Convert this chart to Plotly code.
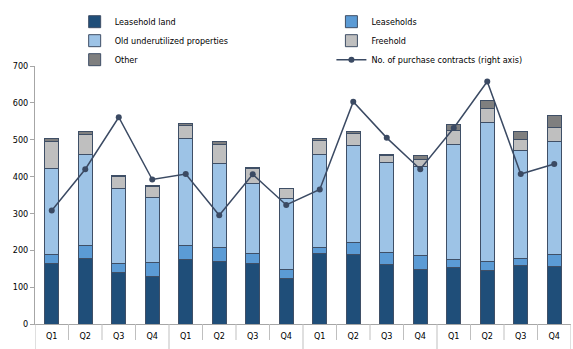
import plotly.graph_objects as go

quarters = ["Q1", "Q2", "Q3", "Q4"] * 4
positions = list(range(16))

leasehold_land = [163, 177, 140, 130, 176, 170, 163, 123, 190, 188, 162, 149, 152, 146, 159, 157]
leaseholds = [25, 37, 25, 37, 36, 37, 29, 25, 18, 34, 32, 37, 22, 24, 20, 31]
old_underutilized = [233, 247, 204, 175, 290, 229, 190, 193, 253, 263, 245, 241, 313, 376, 293, 308]
freehold = [75, 53, 31, 32, 37, 52, 40, 27, 38, 31, 18, 19, 37, 39, 29, 38]
other = [6, 7, 3, 2, 6, 6, 3, 0, 3, 5, 3, 11, 17, 21, 20, 33]
contracts = [308, 420, 561, 392, 407, 295, 406, 323, 365, 603, 505, 420, 532, 658, 407, 434]

outline = "#3f4f66"
series = [
    ("Leasehold land", leasehold_land, "#1f4e79", "legend"),
    ("Leaseholds", leaseholds, "#5b9bd5", "legend2"),
    ("Old underutilized properties", old_underutilized, "#9dc3e6", "legend"),
    ("Freehold", freehold, "#bfbfbf", "legend2"),
    ("Other", other, "#7f7f7f", "legend"),
]

fig = go.Figure()
for name, vals, col, lg in series:
    fig.add_trace(go.Bar(
        x=positions, y=vals, name=name, width=0.42, legend=lg,
        marker=dict(color=col, line=dict(color=outline, width=1)),
    ))

fig.add_trace(go.Scatter(
    x=positions, y=contracts, name="No. of purchase contracts (right axis)",
    mode="lines+markers", yaxis="y2", legend="legend2",
    line=dict(color="#3b4a63", width=1.5),
    marker=dict(color="#3b4a63", size=6),
))

shapes = []
for i in range(17):
    b = i - 0.5
    year_edge = (i % 4 == 0)
    shapes.append(dict(type="line", xref="x", yref="paper", x0=b, x1=b,
                       y0=0, y1=(-0.11 if year_edge else -0.062),
                       line=dict(color="#bfbfbf", width=1)))

legend_common = dict(orientation="v", yanchor="top", y=1.228, xanchor="left",
                     traceorder="normal", itemwidth=30, font=dict(size=9),
                     bgcolor="rgba(0,0,0,0)", tracegroupgap=0)

fig.update_layout(
    width=573, height=349,
    barmode="stack",
    margin=dict(l=35, r=2, t=66, b=25),
    paper_bgcolor="white", plot_bgcolor="white",
    font=dict(family="DejaVu Sans Condensed, DejaVu Sans", size=9, color="#000000"),
    showlegend=True,
    legend=dict(x=0.074, **legend_common),
    legend2=dict(x=0.553, **legend_common),
    xaxis=dict(
        tickmode="array", tickvals=positions, ticktext=quarters,
        range=[-0.5, 15.5], showline=True, linecolor="#a6a6a6", linewidth=1,
        ticks="", ticklabelstandoff=3, automargin=False,
        showgrid=False, zeroline=False,
    ),
    yaxis=dict(
        range=[0, 700], dtick=100, showline=True, linecolor="#a6a6a6", linewidth=1,
        ticks="outside", ticklen=4, tickcolor="#a6a6a6", showgrid=False, zeroline=False,
        automargin=False,
    ),
    yaxis2=dict(range=[0, 700], overlaying="y", side="right", visible=False),
    shapes=shapes,
)

fig.write_html("out.html")
